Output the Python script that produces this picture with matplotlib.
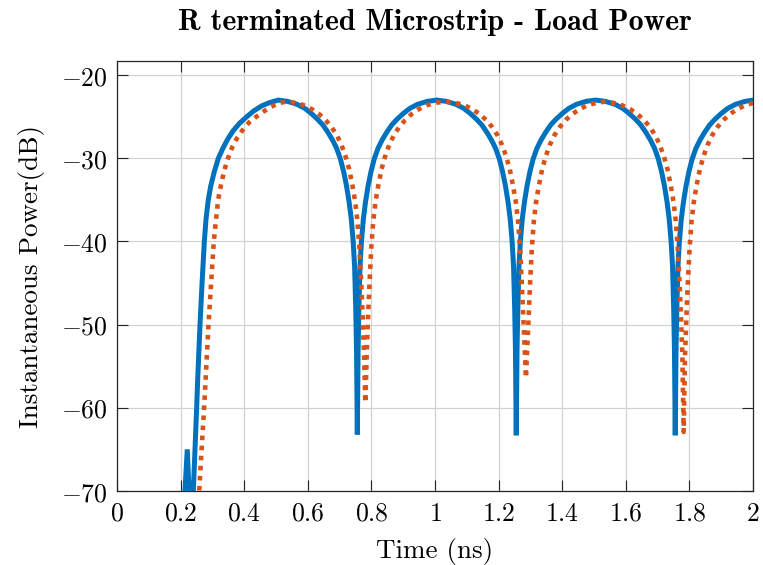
import matplotlib
matplotlib.use('Agg')
import matplotlib.pyplot as plt
from matplotlib.ticker import FuncFormatter

plt.rcParams['mathtext.fontset'] = 'cm'

# Blue (solid) trace: time in ns, power in dB
t_blue = [0.205, 0.221, 0.231, 0.240, 0.2505, 0.2537, 0.261, 0.2675, 0.2746, 0.28,
          0.287, 0.295, 0.306, 0.3187, 0.333, 0.348, 0.365, 0.385, 0.408, 0.43,
          0.455, 0.48, 0.507,
          0.5357, 0.5657, 0.5907, 0.6107, 0.6307, 0.6477, 0.6637, 0.6777, 0.6907, 0.7027,
          0.7127, 0.7217, 0.7297, 0.7367, 0.7427, 0.7472, 0.7507, 0.7532, 0.7557,
          0.7582, 0.7607, 0.7642, 0.7687, 0.7747, 0.7817, 0.7897, 0.7987, 0.8087, 0.8207,
          0.8337, 0.8477, 0.8637, 0.8807, 0.9007, 0.9207, 0.9457, 0.9757, 1.0057,
          1.0355, 1.0655, 1.0905, 1.1105, 1.1305, 1.1475, 1.1635, 1.1775, 1.1905, 1.2025,
          1.2125, 1.2215, 1.2295, 1.2365, 1.2425, 1.247, 1.2505, 1.253, 1.2555,
          1.258, 1.2605, 1.264, 1.2685, 1.2745, 1.2815, 1.2895, 1.2985, 1.3085, 1.3205,
          1.3335, 1.3475, 1.3635, 1.3805, 1.4005, 1.4205, 1.4455, 1.4755, 1.5055,
          1.5355, 1.5655, 1.5905, 1.6105, 1.6305, 1.6475, 1.6635, 1.6775, 1.6905, 1.7025,
          1.7125, 1.7215, 1.7295, 1.7365, 1.7425, 1.747, 1.7505, 1.753, 1.7555,
          1.758, 1.7605, 1.764, 1.7685, 1.7745, 1.7815, 1.7895, 1.7985, 1.8085, 1.8205,
          1.8335, 1.8475, 1.8635, 1.8805, 1.9005, 1.9205, 1.9455, 1.9755, 2.0]
p_blue = [-76, -65.0, -74, -70, -60, -56.6, -50, -45, -40, -37.3,
          -35, -33.3, -31.6, -30, -28.8, -27.7, -26.7, -25.8, -25.0, -24.3,
          -23.7, -23.3, -23.0,
          -23.15, -23.5, -24.0, -24.6, -25.3, -26.0, -26.9, -27.8, -28.8, -30.1,
          -31.6, -33.3, -35.2, -37.3, -40, -43, -48, -53, -63.2,
          -53, -48, -43, -40, -37.3, -35.2, -33.3, -31.6, -30.1, -28.8,
          -27.8, -26.9, -26.0, -25.3, -24.6, -24.0, -23.5, -23.15, -23.0,
          -23.15, -23.5, -24.0, -24.6, -25.3, -26.0, -26.9, -27.8, -28.8, -30.1,
          -31.6, -33.3, -35.2, -37.3, -40, -43, -48, -53, -63.3,
          -53, -48, -43, -40, -37.3, -35.2, -33.3, -31.6, -30.1, -28.8,
          -27.8, -26.9, -26.0, -25.3, -24.6, -24.0, -23.5, -23.15, -23.0,
          -23.15, -23.5, -24.0, -24.6, -25.3, -26.0, -26.9, -27.8, -28.8, -30.1,
          -31.6, -33.3, -35.2, -37.3, -40, -43, -48, -53, -63.3,
          -53, -48, -43, -40, -37.3, -35.2, -33.3, -31.6, -30.1, -28.8,
          -27.8, -26.9, -26.0, -25.3, -24.6, -24.0, -23.5, -23.15, -23.0]

# Red (dotted) trace
t_red = [0.255, 0.2585, 0.266, 0.274, 0.281, 0.2877, 0.296, 0.3044, 0.311, 0.318,
         0.327, 0.337, 0.349, 0.362, 0.377, 0.395, 0.415, 0.438, 0.46, 0.485,
         0.51, 0.53,
         0.556, 0.586, 0.613, 0.636, 0.656, 0.674, 0.691, 0.706, 0.719, 0.730,
         0.740, 0.749, 0.756, 0.762, 0.768, 0.7725, 0.777, 0.781,
         0.785, 0.7895, 0.794, 0.800, 0.806, 0.813, 0.822, 0.832, 0.843, 0.856,
         0.871, 0.888, 0.906, 0.926, 0.949, 0.976, 1.006, 1.034,
         1.061, 1.091, 1.118, 1.141, 1.161, 1.179, 1.196, 1.211, 1.224, 1.235,
         1.245, 1.254, 1.261, 1.267, 1.273, 1.2775, 1.282, 1.286,
         1.290, 1.2945, 1.299, 1.305, 1.311, 1.318, 1.327, 1.337, 1.348, 1.361,
         1.376, 1.393, 1.411, 1.431, 1.454, 1.481, 1.511, 1.534,
         1.557, 1.587, 1.614, 1.637, 1.657, 1.675, 1.692, 1.707, 1.72, 1.731,
         1.741, 1.75, 1.757, 1.763, 1.769, 1.7735, 1.778, 1.782,
         1.786, 1.7905, 1.795, 1.801, 1.807, 1.814, 1.823, 1.833, 1.844, 1.857,
         1.872, 1.889, 1.907, 1.927, 1.95, 1.977, 2.0]
p_red = [-76, -70, -65, -60, -55, -50, -45, -40, -37.5, -35,
         -33.2, -31.5, -30, -28.7, -27.6, -26.6, -25.7, -25.0, -24.4, -23.8,
         -23.35, -23.2,
         -23.3, -23.6, -24.1, -24.7, -25.4, -26.2, -27.2, -28.4, -29.8, -31.3,
         -33.2, -35.2, -37.5, -40.5, -45, -49, -54, -59.4,
         -54, -49, -45, -40.5, -37.5, -35.2, -33.2, -31.3, -29.8, -28.4,
         -27.2, -26.2, -25.4, -24.7, -24.1, -23.6, -23.3, -23.2,
         -23.3, -23.6, -24.1, -24.7, -25.4, -26.2, -27.2, -28.4, -29.8, -31.3,
         -33.2, -35.2, -37.5, -40.5, -45, -49, -53, -56.4,
         -53, -49, -45, -40.5, -37.5, -35.2, -33.2, -31.3, -29.8, -28.4,
         -27.2, -26.2, -25.4, -24.7, -24.1, -23.6, -23.3, -23.2,
         -23.3, -23.6, -24.1, -24.7, -25.4, -26.2, -27.2, -28.4, -29.8, -31.3,
         -33.2, -35.2, -37.5, -40.5, -45, -49, -54, -62.9,
         -54, -49, -45, -40.5, -37.5, -35.2, -33.2, -31.3, -29.8, -28.4,
         -27.2, -26.2, -25.4, -24.7, -24.1, -23.6, -23.35]

x_ticks = [0, 0.2, 0.4, 0.6, 0.8, 1, 1.2, 1.4, 1.6, 1.8, 2]
y_ticks = [-70, -60, -50, -40, -30, -20]

fig = plt.figure(figsize=(7.63, 5.65), dpi=100)
ax = fig.add_axes([117 / 763, 1 - 491 / 565, 636 / 763, 430 / 565])

ax.plot(t_blue, p_blue, color='#0072BD', lw=3.6, solid_joinstyle='miter', zorder=3)
ax.plot(t_red, p_red, color='#D95319', lw=3.3, linestyle=(0, (1, 1.2)), zorder=4)

ax.set_xlim(0, 2)
ax.set_ylim(-70, -18.3)
ax.set_xticks(x_ticks)
ax.set_yticks(y_ticks)
fmt = FuncFormatter(lambda v, pos: '$%g$' % v)
ax.xaxis.set_major_formatter(fmt)
ax.yaxis.set_major_formatter(fmt)

ax.grid(True, color='#d2d2d2', lw=0.9, zorder=0)
ax.set_axisbelow(True)
ax.tick_params(direction='in', length=8, width=0.8, color='#262626',
               top=True, right=True, labelsize=18.5, pad=7)
for s in ax.spines.values():
    s.set_color('#262626')
    s.set_linewidth(0.9)

ax.set_xlabel('Time (ns)', family='cmr10', fontsize=19.5, labelpad=8)
ax.set_ylabel('Instantaneous Power(dB)', family='cmr10', fontsize=19.5, labelpad=11)
ax.set_title('R terminated Microstrip - Load Power', family='cmb10', fontsize=21.5, pad=22)

fig.savefig('out.png', dpi=100)
